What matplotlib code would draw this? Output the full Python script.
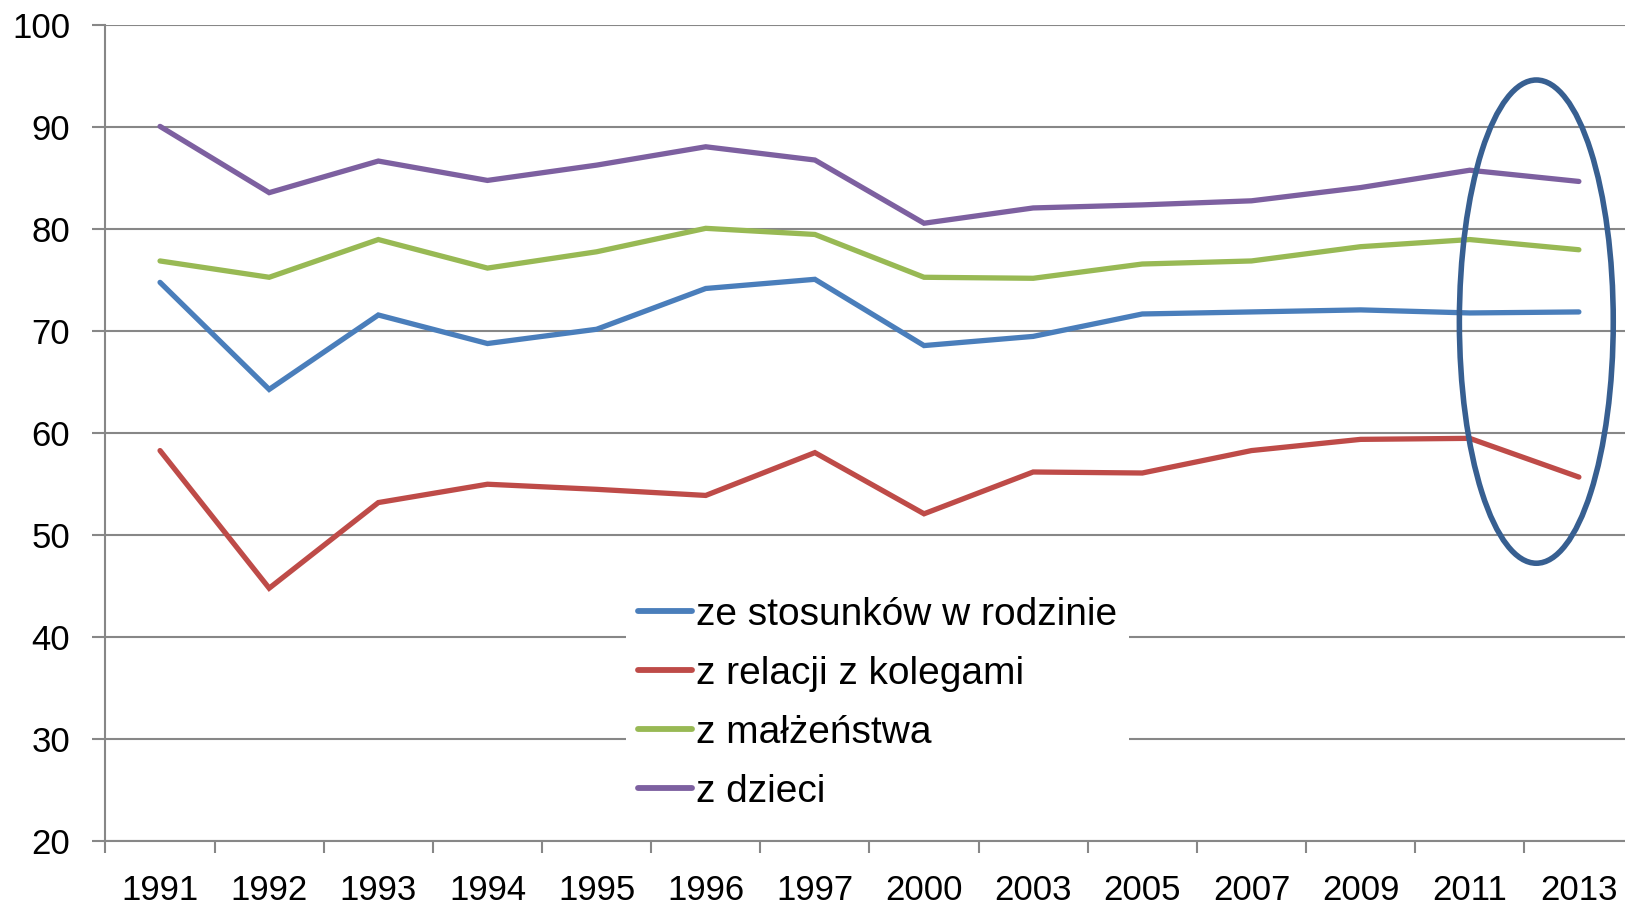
import matplotlib
matplotlib.use("Agg")
import matplotlib.pyplot as plt
from matplotlib.patches import Ellipse
import numpy as np

years = ["1991", "1992", "1993", "1994", "1995", "1996", "1997",
         "2000", "2003", "2005", "2007", "2009", "2011", "2013"]
rodzina = [74.8, 64.3, 71.6, 68.8, 70.2, 74.2, 75.1, 68.6, 69.5, 71.7, 71.9, 72.1, 71.8, 71.9]
koledzy = [58.3, 44.8, 53.2, 55.0, 54.5, 53.9, 58.1, 52.1, 56.2, 56.1, 58.3, 59.4, 59.5, 55.7]
malzenstwo = [76.9, 75.3, 79.0, 76.2, 77.8, 80.1, 79.5, 75.3, 75.2, 76.6, 76.9, 78.3, 79.0, 78.0]
dzieci = [90.1, 83.6, 86.7, 84.8, 86.3, 88.1, 86.8, 80.6, 82.1, 82.4, 82.8, 84.1, 85.8, 84.7]
labels = ["ze stosunków w rodzinie", "z relacji z kolegami", "z małżeństwa", "z dzieci"]
colors = ["#4A7EBB", "#BE4B48", "#98B954", "#7D60A0"]

plt.rcParams['font.family'] = ['Liberation Sans', 'DejaVu Sans']

fig = plt.figure(figsize=(16.25, 9.06), dpi=100)
ax = fig.add_axes([0.0649, 0.0717, 0.9403, 0.9002])

x = np.arange(len(years))
for vals, lab, col in zip([rodzina, koledzy, malzenstwo, dzieci], labels, colors):
    ax.plot(x, vals, color=col, lw=3.8, label=lab, solid_capstyle='round',
            solid_joinstyle='miter', zorder=3)

ax.set_xlim(-0.5, len(years) - 0.5)
ax.set_ylim(20, 100)
ax.set_yticks(np.arange(20, 101, 10))
ax.yaxis.grid(True, color="#878787", lw=1.5, zorder=0)
ax.set_axisbelow(True)

ax.set_xticks(x)
ax.set_xticklabels(years)
ax.set_xticks(np.arange(-0.5, len(years), 1.0), minor=True)
ax.tick_params(axis='x', which='major', length=0, pad=24, labelsize=25)
ax.tick_params(axis='x', which='minor', length=8.6, width=1.5, color="#878787", direction='out')
ax.tick_params(axis='y', length=9.4, width=1.5, color="#878787", direction='out', pad=16, labelsize=25)

for s in ['top', 'right']:
    ax.spines[s].set_visible(False)
for s in ['left', 'bottom']:
    ax.spines[s].set_color("#878787")
    ax.spines[s].set_linewidth(1.5)

ell = Ellipse((12.61, 70.95), width=1.41, height=47.4, fill=False,
              edgecolor="#375F91", lw=4.0, zorder=4)
ax.add_patch(ell)

leg = ax.legend(loc='center', bbox_to_anchor=(0.54, 0.2235), bbox_transform=fig.transFigure,
                prop={'size': 28},
                frameon=True, facecolor='white', edgecolor='none', framealpha=1,
                handlelength=1.4, handletextpad=0.1, labelspacing=0.59, borderpad=0.3,
                borderaxespad=0)
for h in leg.get_lines():
    h.set_linewidth(4.2)

fig.savefig("out.png", dpi=100)
